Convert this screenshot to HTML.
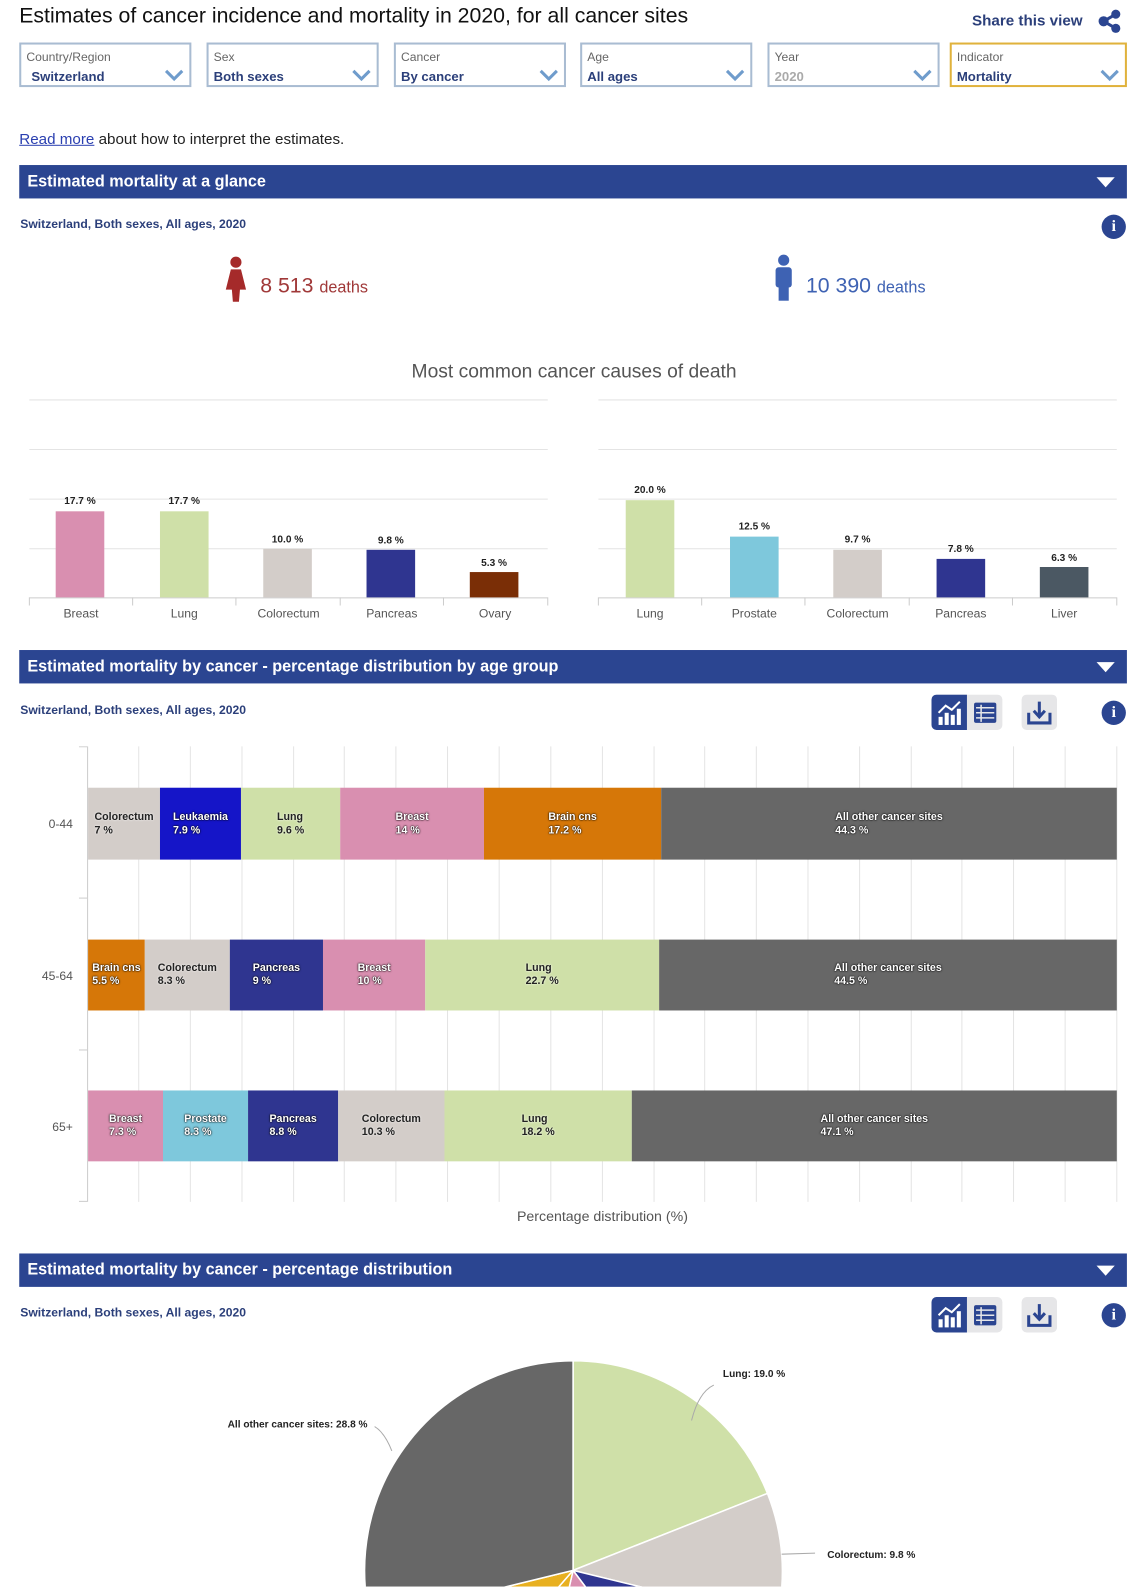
<!DOCTYPE html>
<html><head><meta charset="utf-8">
<style>
html,body{margin:0;padding:0;background:#fff;overflow:hidden;width:1134px;height:1587px}
#w{position:absolute;left:0;top:0;width:1120px;height:1567px;overflow:hidden;transform:scale(1.0125);transform-origin:0 0;font-family:"Liberation Sans",Arial,sans-serif}
.a{position:absolute}
.sel{position:absolute;top:42px;width:170px;height:44px;border:2px solid #a9bcd2;box-sizing:border-box}
.sel .l{position:absolute;left:5px;top:5px;font-size:12px;color:#666}
.sel .v{position:absolute;left:5px;top:24px;font-size:13px;font-weight:bold;color:#2b3f7a}
.sel svg{position:absolute;right:5px;top:24px}
.hb{position:absolute;left:19px;width:1094px;height:33px;background:#2b4591;color:#fff;font-weight:bold;font-size:16px;line-height:33px;text-indent:8px}
.hb:after{content:"";position:absolute;right:12px;top:12px;border-left:9px solid transparent;border-right:9px solid transparent;border-top:10px solid #fff}
.sub{position:absolute;left:20px;font-size:12px;font-weight:bold;color:#2b3f7a}
.info{position:absolute;left:1088px;width:24px;height:24px;border-radius:50%;background:#2b4591;color:#fff;font:bold 16px "Liberation Serif",serif;text-align:center;line-height:24px}
.seg{position:absolute;height:100%;top:0;display:flex;align-items:center;justify-content:center}
.seg div{font-size:10.5px;font-weight:bold;color:#fff;text-shadow:0 0 2px #000,0 0 1px #000;line-height:13px;text-align:left}
.seg.d div{color:#222;text-shadow:0 0 2px #fff}
</style></head><body><div id="w">
<div class="a" style="left:19px;top:4px;font-size:21px;color:#111">Estimates of cancer incidence and mortality in 2020, for all cancer sites</div>
<div class="a" style="left:960px;top:12px;font-size:15px;font-weight:bold;color:#2b3f7a">Share this view</div>
<svg class="a" style="left:1084px;top:9px" width="24" height="24"><line x1="6" y1="12" x2="18" y2="5" stroke="#2b4591" stroke-width="3"/><line x1="6" y1="12" x2="18" y2="19" stroke="#2b4591" stroke-width="3"/><circle cx="6" cy="12" r="5" fill="#2b4591"/><circle cx="18" cy="5" r="4.5" fill="#2b4591"/><circle cx="18" cy="19" r="4.5" fill="#2b4591"/></svg>

<div class="sel" style="left:19px"><span class="l">Country/Region</span><span class="v" style="left:10px">Switzerland</span><svg width="20" height="14"><polyline points="2,2 10,10 18,2" fill="none" stroke="#6f9ccc" stroke-width="3"/></svg></div>
<div class="sel" style="left:204px"><span class="l">Sex</span><span class="v">Both sexes</span><svg width="20" height="14"><polyline points="2,2 10,10 18,2" fill="none" stroke="#6f9ccc" stroke-width="3"/></svg></div>
<div class="sel" style="left:389px"><span class="l">Cancer</span><span class="v">By cancer</span><svg width="20" height="14"><polyline points="2,2 10,10 18,2" fill="none" stroke="#6f9ccc" stroke-width="3"/></svg></div>
<div class="sel" style="left:573px"><span class="l">Age</span><span class="v">All ages</span><svg width="20" height="14"><polyline points="2,2 10,10 18,2" fill="none" stroke="#6f9ccc" stroke-width="3"/></svg></div>
<div class="sel" style="left:758px"><span class="l">Year</span><span class="v" style="color:#aaa">2020</span><svg width="20" height="14"><polyline points="2,2 10,10 18,2" fill="none" stroke="#6f9ccc" stroke-width="3"/></svg></div>
<div class="sel" style="left:938px;width:175px;border-color:#e0b23c"><span class="l">Indicator</span><span class="v">Mortality</span><svg width="20" height="14"><polyline points="2,2 10,10 18,2" fill="none" stroke="#6f9ccc" stroke-width="3"/></svg></div>

<div class="a" style="left:19px;top:129px;font-size:15px;color:#222"><span style="color:#2a3fb0;text-decoration:underline">Read more</span> about how to interpret the estimates.</div>

<div class="hb" style="top:163px">Estimated mortality at a glance</div>
<div class="sub" style="top:214px">Switzerland, Both sexes, All ages, 2020</div>
<div class="info" style="top:212px">i</div>
<svg class="a" style="left:220px;top:253px" width="26" height="46"><circle cx="13" cy="6" r="5.5" fill="#a52a2a"/><polygon points="8,13 18,13 23,33 17,33 16,45 10,45 9,33 3,33" fill="#a52a2a"/></svg>
<div class="a" style="left:257px;top:271px;color:#a03838;font-size:21px">8 513 <span style="font-size:16px">deaths</span></div>
<svg class="a" style="left:762px;top:251px" width="24" height="48"><circle cx="12" cy="6" r="5.5" fill="#3e62b3"/><rect x="4" y="13" width="16" height="20" rx="3" fill="#3e62b3"/><rect x="7" y="30" width="10" height="16" fill="#3e62b3"/></svg>
<div class="a" style="left:796px;top:271px;color:#3e62b3;font-size:21px">10 390 <span style="font-size:16px">deaths</span></div>

<div class="a" style="left:0;width:1134px;text-align:center;top:357px;font-size:19px;color:#555">Most common cancer causes of death</div>
<svg class="a" style="left:0;top:380px" width="1120" height="240">
<g stroke="#e4e4e4" stroke-width="1">
<line x1="29" x2="541" y1="15" y2="15"/><line x1="29" x2="541" y1="64" y2="64"/><line x1="29" x2="541" y1="113" y2="113"/><line x1="29" x2="541" y1="162" y2="162"/>
<line x1="591" x2="1103" y1="15" y2="15"/><line x1="591" x2="1103" y1="64" y2="64"/><line x1="591" x2="1103" y1="113" y2="113"/><line x1="591" x2="1103" y1="162" y2="162"/>
</g>
<g stroke="#ccc"><line x1="29" x2="541" y1="210.5" y2="210.5"/><line x1="591" x2="1103" y1="210.5" y2="210.5"/>
<line x1="131" x2="131" y1="210" y2="218"/><line x1="233" x2="233" y1="210" y2="218"/><line x1="336" x2="336" y1="210" y2="218"/><line x1="438" x2="438" y1="210" y2="218"/><line x1="29" x2="29" y1="210" y2="218"/><line x1="541" x2="541" y1="210" y2="218"/>
<line x1="693" x2="693" y1="210" y2="218"/><line x1="795" x2="795" y1="210" y2="218"/><line x1="898" x2="898" y1="210" y2="218"/><line x1="1000" x2="1000" y1="210" y2="218"/><line x1="591" x2="591" y1="210" y2="218"/><line x1="1103" x2="1103" y1="210" y2="218"/></g>
<rect x="55" y="125" width="48" height="85" fill="#d98fb0"/>
<rect x="158" y="125" width="48" height="85" fill="#cfe0a8"/>
<rect x="260" y="162" width="48" height="48" fill="#d3cdc9"/>
<rect x="362" y="163" width="48" height="47" fill="#2f3590"/>
<rect x="464" y="185" width="48" height="25" fill="#7a2e06"/>
<rect x="618" y="114" width="48" height="96" fill="#cfe0a8"/>
<rect x="721" y="150" width="48" height="60" fill="#7ec8dc"/>
<rect x="823" y="163" width="48" height="47" fill="#d3cdc9"/>
<rect x="925" y="172" width="48" height="38" fill="#2f3590"/>
<rect x="1027" y="180" width="48" height="30" fill="#4b5863"/>
<g font-size="10" font-weight="bold" fill="#222" text-anchor="middle">
<text x="79" y="118">17.7 %</text><text x="182" y="118">17.7 %</text><text x="284" y="156">10.0 %</text><text x="386" y="157">9.8 %</text><text x="488" y="179">5.3 %</text>
<text x="642" y="107">20.0 %</text><text x="745" y="143">12.5 %</text><text x="847" y="156">9.7 %</text><text x="949" y="165">7.8 %</text><text x="1051" y="174">6.3 %</text>
</g>
<g font-size="12" fill="#555" text-anchor="middle">
<text x="80" y="230">Breast</text><text x="182" y="230">Lung</text><text x="285" y="230">Colorectum</text><text x="387" y="230">Pancreas</text><text x="489" y="230">Ovary</text>
<text x="642" y="230">Lung</text><text x="745" y="230">Prostate</text><text x="847" y="230">Colorectum</text><text x="949" y="230">Pancreas</text><text x="1051" y="230">Liver</text>
</g></svg>

<div class="hb" style="top:642px">Estimated mortality by cancer - percentage distribution by age group</div>
<div class="sub" style="top:694px">Switzerland, Both sexes, All ages, 2020</div>
<div class="info" style="top:692px">i</div>
<svg class="a" style="left:920px;top:686px" width="124" height="36">
<rect x="0" y="0" width="70" height="35" rx="5" fill="#e6e6e8"/><path d="M5,0 h30 v35 h-30 a5,5 0 0 1 -5,-5 v-25 a5,5 0 0 1 5,-5z" fill="#2b4591"/>
<g fill="#fff"><rect x="7" y="22" width="4" height="8"/><rect x="13" y="18" width="4" height="12"/><rect x="19" y="20" width="4" height="10"/><rect x="25" y="14" width="4" height="16"/></g>
<polyline points="7,18 14,11 20,15 28,7" fill="none" stroke="#fff" stroke-width="2"/>
<rect x="42" y="8" width="22" height="20" rx="2" fill="#2b4591"/><g stroke="#e6e6e8" stroke-width="1.5"><line x1="44" x2="62" y1="13" y2="13"/><line x1="44" x2="62" y1="18" y2="18"/><line x1="44" x2="62" y1="23" y2="23"/><line x1="49" x2="49" y1="10" y2="27"/></g>
<rect x="89" y="0" width="35" height="35" rx="5" fill="#e6e6e8"/><polyline points="96,18 96,28 117,28 117,18" fill="none" stroke="#2b4591" stroke-width="3"/><line x1="106.5" y1="7" x2="106.5" y2="22" stroke="#2b4591" stroke-width="3"/><polyline points="101,16 106.5,22 112,16" fill="none" stroke="#2b4591" stroke-width="3"/>
</svg>
<svg class="a" style="left:0;top:737px" width="1120" height="455">
<g stroke="#e4e4e4">
<line x1="137" x2="137" y1="0" y2="450"/><line x1="188" x2="188" y1="0" y2="450"/><line x1="239" x2="239" y1="0" y2="450"/><line x1="290" x2="290" y1="0" y2="450"/><line x1="340" x2="340" y1="0" y2="450"/><line x1="391" x2="391" y1="0" y2="450"/><line x1="442" x2="442" y1="0" y2="450"/><line x1="493" x2="493" y1="0" y2="450"/><line x1="544" x2="544" y1="0" y2="450"/><line x1="595" x2="595" y1="0" y2="450"/><line x1="646" x2="646" y1="0" y2="450"/><line x1="696" x2="696" y1="0" y2="450"/><line x1="747" x2="747" y1="0" y2="450"/><line x1="798" x2="798" y1="0" y2="450"/><line x1="849" x2="849" y1="0" y2="450"/><line x1="900" x2="900" y1="0" y2="450"/><line x1="950" x2="950" y1="0" y2="450"/><line x1="1001" x2="1001" y1="0" y2="450"/><line x1="1052" x2="1052" y1="0" y2="450"/><line x1="1103" x2="1103" y1="0" y2="450"/>
</g>
<g stroke="#ccc"><line x1="86.5" x2="86.5" y1="0" y2="450"/><line x1="78" x2="86" y1="0.5" y2="0.5"/><line x1="78" x2="86" y1="150" y2="150"/><line x1="78" x2="86" y1="300" y2="300"/><line x1="78" x2="86" y1="449.5" y2="449.5"/></g>
<g font-size="12" fill="#555" text-anchor="end"><text x="72" y="81">0-44</text><text x="72" y="231">45-64</text><text x="72" y="380">65+</text></g>
</svg>
<div class="a" style="left:87px;top:778px;width:1016px;height:71px">
<div class="seg d" style="left:0;width:71px;background:#d3cdc9"><div>Colorectum<br>7 %</div></div>
<div class="seg" style="left:71px;width:80px;background:#1515c8"><div>Leukaemia<br>7.9 %</div></div>
<div class="seg d" style="left:151px;width:98px;background:#cfe0a8"><div>Lung<br>9.6 %</div></div>
<div class="seg" style="left:249px;width:142px;background:#d98fb0"><div>Breast<br>14 %</div></div>
<div class="seg" style="left:391px;width:175px;background:#d67708"><div>Brain cns<br>17.2 %</div></div>
<div class="seg" style="left:566px;width:450px;background:#676767"><div>All other cancer sites<br>44.3 %</div></div>
</div>
<div class="a" style="left:87px;top:928px;width:1016px;height:70px">
<div class="seg" style="left:0;width:56px;background:#d67708"><div>Brain cns<br>5.5 %</div></div>
<div class="seg d" style="left:56px;width:84px;background:#d3cdc9"><div>Colorectum<br>8.3 %</div></div>
<div class="seg" style="left:140px;width:92px;background:#2f3590"><div>Pancreas<br>9 %</div></div>
<div class="seg" style="left:232px;width:101px;background:#d98fb0"><div>Breast<br>10 %</div></div>
<div class="seg d" style="left:333px;width:231px;background:#cfe0a8"><div>Lung<br>22.7 %</div></div>
<div class="seg" style="left:564px;width:452px;background:#676767"><div>All other cancer sites<br>44.5 %</div></div>
</div>
<div class="a" style="left:87px;top:1077px;width:1016px;height:70px">
<div class="seg" style="left:0;width:74px;background:#d98fb0"><div>Breast<br>7.3 %</div></div>
<div class="seg" style="left:74px;width:84px;background:#7ec8dc"><div>Prostate<br>8.3 %</div></div>
<div class="seg" style="left:158px;width:89px;background:#2f3590"><div>Pancreas<br>8.8 %</div></div>
<div class="seg d" style="left:247px;width:105px;background:#d3cdc9"><div>Colorectum<br>10.3 %</div></div>
<div class="seg d" style="left:352px;width:185px;background:#cfe0a8"><div>Lung<br>18.2 %</div></div>
<div class="seg" style="left:537px;width:479px;background:#676767"><div>All other cancer sites<br>47.1 %</div></div>
</div>
<div class="a" style="left:87px;width:1016px;text-align:center;top:1193px;font-size:14px;color:#555">Percentage distribution (%)</div>

<div class="hb" style="top:1238px">Estimated mortality by cancer - percentage distribution</div>
<div class="sub" style="top:1289px">Switzerland, Both sexes, All ages, 2020</div>
<div class="info" style="top:1287px">i</div>
<svg class="a" style="left:920px;top:1281px" width="124" height="36">
<rect x="0" y="0" width="70" height="35" rx="5" fill="#e6e6e8"/><path d="M5,0 h30 v35 h-30 a5,5 0 0 1 -5,-5 v-25 a5,5 0 0 1 5,-5z" fill="#2b4591"/>
<g fill="#fff"><rect x="7" y="22" width="4" height="8"/><rect x="13" y="18" width="4" height="12"/><rect x="19" y="20" width="4" height="10"/><rect x="25" y="14" width="4" height="16"/></g>
<polyline points="7,18 14,11 20,15 28,7" fill="none" stroke="#fff" stroke-width="2"/>
<rect x="42" y="8" width="22" height="20" rx="2" fill="#2b4591"/><g stroke="#e6e6e8" stroke-width="1.5"><line x1="44" x2="62" y1="13" y2="13"/><line x1="44" x2="62" y1="18" y2="18"/><line x1="44" x2="62" y1="23" y2="23"/><line x1="49" x2="49" y1="10" y2="27"/></g>
<rect x="89" y="0" width="35" height="35" rx="5" fill="#e6e6e8"/><polyline points="96,18 96,28 117,28 117,18" fill="none" stroke="#2b4591" stroke-width="3"/><line x1="106.5" y1="7" x2="106.5" y2="22" stroke="#2b4591" stroke-width="3"/><polyline points="101,16 106.5,22 112,16" fill="none" stroke="#2b4591" stroke-width="3"/>
</svg>
<svg class="a" style="left:0;top:1330px" width="1120" height="237">
<g stroke="#fff" stroke-width="1.5">
<path d="M566,221 L566,14 A207,207 0 0 1 758,145 Z" fill="#cfe0a8"/>
<path d="M566,221 L758,145 A207,207 0 0 1 767,270 Z" fill="#d3cdc9"/>
<path d="M566,221 L767,270 A207,207 0 0 1 690,386 Z" fill="#2f3590"/>
<path d="M566,221 L690,386 A207,207 0 0 1 520,423 Z" fill="#d98fb0"/>
<path d="M566,221 L520,423 A207,207 0 0 1 430,377 Z" fill="#e8b020"/>
<path d="M566,221 L430,377 A207,207 0 0 1 366,270 Z" fill="#e8b020"/>
<path d="M566,221 L366,270 A207,207 0 0 1 566,14 Z" fill="#676767"/>
</g>
<g fill="none" stroke="#aaa"><path d="M683,73 Q690,45 705,38"/><path d="M772,205 L805,204"/><path d="M387,103 Q380,85 370,79"/></g>
<g font-size="10" font-weight="bold" fill="#222"><text x="714" y="30">Lung: 19.0 %</text><text x="817" y="209">Colorectum: 9.8 %</text><text x="363" y="80" text-anchor="end">All other cancer sites: 28.8 %</text></g>
</svg>
</div></body></html>
